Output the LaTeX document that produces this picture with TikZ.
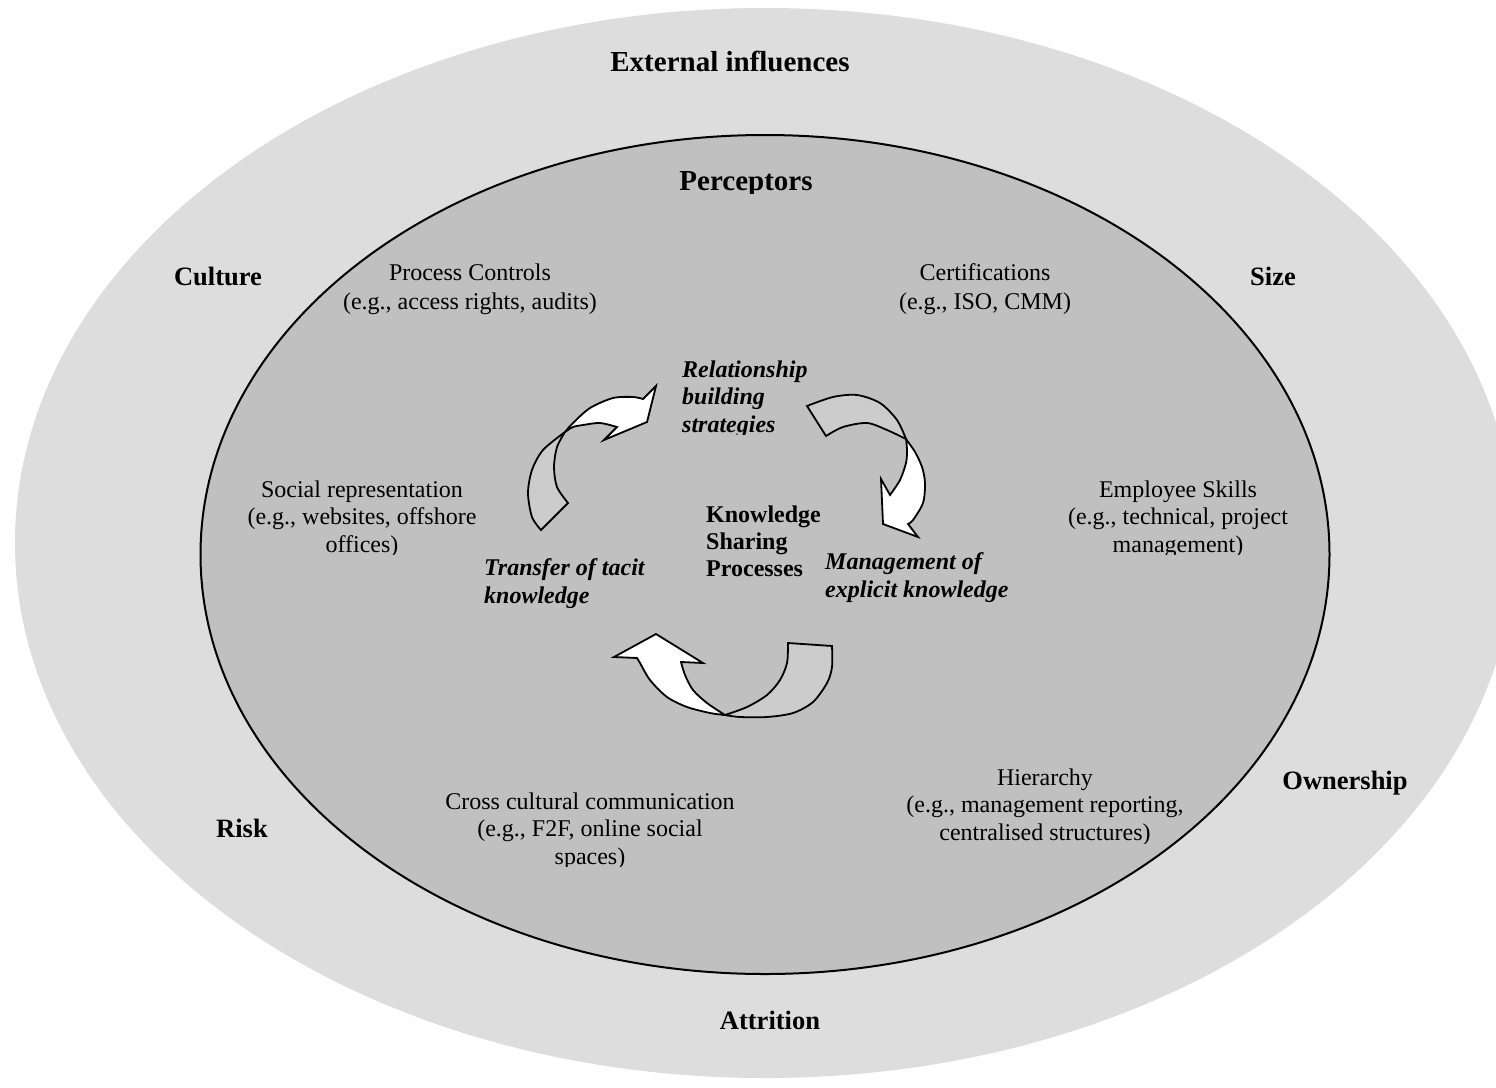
\documentclass[tikz,border=0pt]{standalone}
\usepackage{fontspec}
\setmainfont{Liberation Serif}
\definecolor{outerfill}{RGB}{221,221,221}
\definecolor{innerfill}{RGB}{192,192,192}
\definecolor{ribbonback}{RGB}{204,204,204}
\begin{document}
% multi-line nodes are placed by the baseline of their last line
\begin{tikzpicture}[x=1pt,y=-1pt,
  plain/.style={font=\fontsize{24}{27.5}\selectfont, align=center, anchor=base, inner sep=0pt},
  factor/.style={font=\fontsize{26.5}{30}\selectfont\bfseries, anchor=base, inner sep=0pt},
  heading/.style={font=\fontsize{29}{33}\selectfont\bfseries, anchor=base, inner sep=0pt},
  process/.style={font=\fontsize{24}{27.5}\selectfont\bfseries\itshape, align=left, anchor=base west, inner sep=0pt},
  core/.style={font=\fontsize{24}{27}\selectfont\bfseries, align=left, anchor=base west, inner sep=0pt},
  ribbon/.style={draw=black, line width=1.8pt, line join=miter},
  back/.style={ribbon, fill=ribbonback},
  front/.style={ribbon, fill=white}]
\useasboundingbox (0,0) rectangle (1496,1087);
\fill[white] (0,0) rectangle (1496,1087);

% external influences ring and perceptors disc
\begin{scope}
  \clip (0,0) rectangle (1496,1087);
  \fill[outerfill] (765,543) ellipse [x radius=750pt, y radius=535pt];
\end{scope}
\filldraw[fill=innerfill, draw=black, line width=2pt] (765,554.5) ellipse [x radius=564.5pt, y radius=419.5pt];

% ring labels
\node[heading] (ext) at (730,71) {External influences};
\node[factor] (culture) at (218,285) {Culture};
\node[factor] (size) at (1273,285) {Size};
\node[factor] (risk) at (242,837) {Risk};
\node[factor] (own) at (1345,789) {Ownership};
\node[factor] (attr) at (770,1029) {Attrition};

% perceptors
\begin{scope}
  \clip (0,0) rectangle (1496,193);
  \node[heading] (perc) at (746,190) {Perceptors};
\end{scope}
\node[plain, font=\fontsize{24}{28.5}\selectfont] (ctrl) at (470,309) {Process Controls\\(e.g., access rights, audits)};
\node[plain, font=\fontsize{24}{28.5}\selectfont] (cert) at (985,309) {Certifications\\(e.g., ISO, CMM)};
\begin{scope}
  \clip (0,0) rectangle (1496,554);
  \node[plain] (social) at (362,552) {Social representation\\(e.g., websites, offshore\\offices)};
  \node[plain] (skills) at (1178,552) {Employee Skills\\(e.g., technical, project\\management)};
\end{scope}
\begin{scope}
  \clip (0,0) rectangle (1496,866);
  \node[plain] (cross) at (590,864) {Cross cultural communication\\(e.g., F2F, online social\\spaces)};
\end{scope}
\begin{scope}
  \clip (0,0) rectangle (1496,843);
  \node[plain] (hier) at (1045,840) {Hierarchy\\(e.g., management reporting,\\centralised structures)};
\end{scope}

% knowledge sharing processes
\node[core] (ksp) at (706,576) {Knowledge\\Sharing\\Processes};
\begin{scope}
  \clip (0,0) rectangle (1496,434);
  \node[process] (rel) at (682,432) {Relationship\\building\\strategies};
\end{scope}
\node[process] (tacit) at (484,603) {Transfer of tacit\\knowledge};
\node[process] (explicit) at (825,597) {Management of\\explicit knowledge};

% twisted ribbon arrows: back face first, front face on top
\filldraw[back] plot[smooth] coordinates {(541,530) (532,517) (528,493) (532,470) (543,450) (565,432)}
  -- plot[smooth] coordinates {(565,432) (557,447) (554,467) (557,487) (568,503)} -- cycle;
\filldraw[front] plot[smooth] coordinates {(565,432) (573,423) (590,408) (613,398) (633,397) (643,399)}
  -- (656,386) -- (647,422) -- (604,440) -- (617,427)
  -- plot[smooth] coordinates {(617,427) (600,423) (583,425) (573,427) (565,432)} -- cycle;

\filldraw[back] plot[smooth] coordinates {(807,406) (833,397) (857,395) (880,403) (897,420) (906,439)}
  -- plot[smooth] coordinates {(906,439) (887,430) (867,423) (843,427) (826,436)} -- cycle;
\filldraw[front] plot[smooth] coordinates {(906,439) (915,452) (922,467) (925,483) (923,503) (913,520) (908,524)}
  -- (918,537) -- (883,524) -- (881,479) -- (890,495)
  -- plot[smooth] coordinates {(890,495) (900,480) (906,463) (907,450) (906,439)} -- cycle;

\filldraw[back] plot[smooth] coordinates {(832,646) (832,667) (827,683) (813,702) (793,713) (767,717) (740,717) (725,715)}
  -- plot[smooth] coordinates {(725,715) (747,707) (767,695) (780,680) (787,663) (788,643)} -- cycle;
\filldraw[front] plot[smooth] coordinates {(725,715) (710,713) (687,707) (667,697) (650,680) (640,663) (637,658)}
  -- (614,657) -- (656,634) -- (703,663) -- (681,662)
  -- plot[smooth] coordinates {(681,662) (685,675) (693,690) (707,703) (725,715)} -- cycle;
\end{tikzpicture}
\end{document}
